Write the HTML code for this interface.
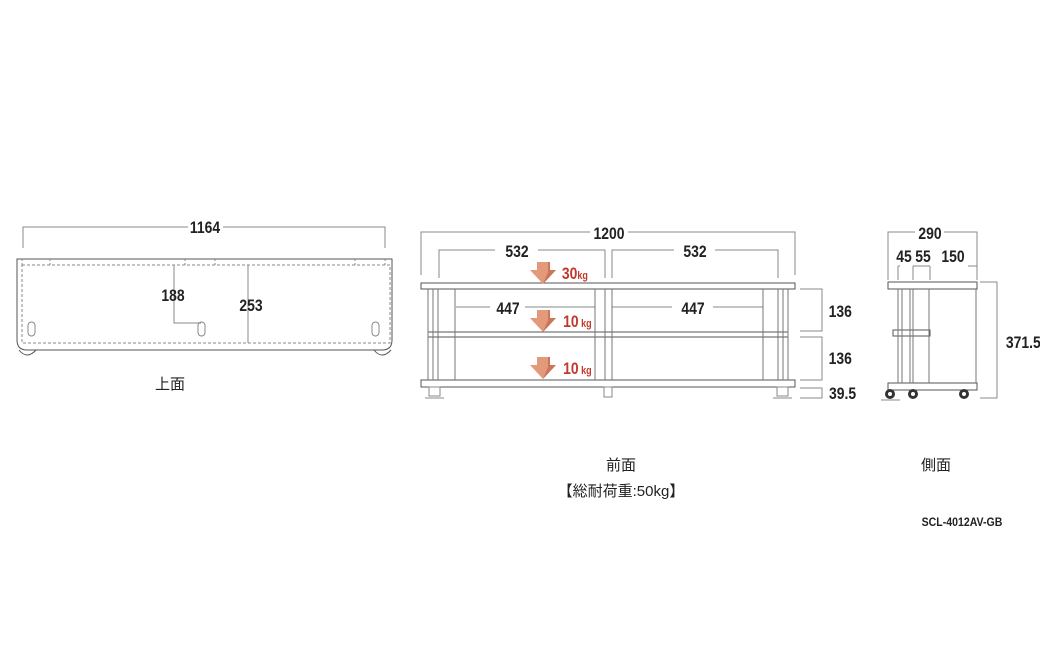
<!DOCTYPE html>
<html><head><meta charset="utf-8"><style>
html,body{margin:0;padding:0;background:#fff;}
svg{display:block}
text{font-family:"Liberation Sans","Noto Sans CJK JP",sans-serif;fill:#222;font-weight:bold}
.n{font-size:17px;transform-box:fill-box;transform-origin:center;transform:scaleX(.82)}
.r{fill:#c0392b}
.j{font-size:15px;font-weight:normal}
</style></head><body>
<svg width="1040" height="647" viewBox="0 0 1040 647" xmlns="http://www.w3.org/2000/svg">
<g fill="none" stroke="#888" stroke-width="1">
<!-- TOP VIEW -->
<path d="M23 248V227H188M223 227H385V248"/>
<path d="M17 259H392V340Q392 350 382 350H27Q17 350 17 340Z" stroke="#555"/>
<path d="M22 265H390V343H22Z" stroke-dasharray="3,2"/>
<path d="M22 265V259M50 265V259M185 265V259M215 265V259M355 265V259M385 265V259" stroke-dasharray="2,2"/>
<path d="M174 265V323H201"/>
<path d="M248 265V343"/>
<rect x="28" y="322" width="7" height="14" rx="3.5"/>
<rect x="198" y="322" width="7" height="14" rx="3.5"/>
<rect x="372" y="322" width="7" height="14" rx="3.5"/>
<path d="M19 350Q27 360 36 350M374 350Q382 360 391 350" stroke="#555"/>
<!-- FRONT VIEW -->
<path d="M421 275V232H590M628 232H795V275"/>
<path d="M439 278V250H495M538 250H605V278M612 278V250H674M715 250H778V278"/>
<path d="M456 307H490M525 307H595M612 307H672M713 307H763"/>
<rect x="421" y="283" width="374" height="6" stroke="#555"/>
<rect x="428" y="332" width="360" height="5" stroke="#555"/>
<rect x="421" y="380" width="374" height="7" stroke="#555"/>
<path d="M428 289V380M433 289V380M438 289V380M455 289V380M595 289V380M605 289V380M612 289V380M763 289V380M778 289V380M783 289V380M788 289V380" stroke="#777"/>
<rect x="429" y="387" width="11" height="9"/><path d="M425 398H444"/>
<rect x="777" y="387" width="11" height="9"/><path d="M773 398H792"/>
<rect x="604" y="387" width="8" height="10"/>
<path d="M800 289H822V331H800M800 337H822V380H800M800 388H822V398H800"/>
<!-- SIDE VIEW -->
<path d="M888 280V232H915M944 232H977V280"/>
<path d="M898 280V266M913 280V266M930 280V266M977 280V266"/>
<path d="M898 266H900M913 266H930M968 266H977"/>
<rect x="888" y="282" width="89" height="7" stroke="#555"/>
<rect x="893" y="330" width="37" height="6" stroke="#555"/>
<rect x="888" y="383" width="89" height="7" stroke="#555"/>
<path d="M898 289V383M902 289V383M910 289V383M913 289V383M929 289V383M976 289V383" stroke="#777"/>
<path d="M980 282H997V398H980"/>
<path d="M881 400H900"/>
</g>
<g fill="#333">
<circle cx="890" cy="394" r="5"/><circle cx="913" cy="394" r="5"/><circle cx="964" cy="394" r="5"/>
</g>
<g fill="#fff"><circle cx="890" cy="394" r="2"/><circle cx="913" cy="394" r="2"/><circle cx="964" cy="394" r="2"/></g>
<!-- arrows -->
<g fill="#e39a7a">
<path d="M537 262H550V270H556L543 284L530 270H537Z"/>
<path d="M537 310H550V318H556L543 332L530 318H537Z"/>
<path d="M537 357H550V365H556L543 379L530 365H537Z"/>
</g>
<g fill="#c9775a">
<path d="M550 262V270H556L543 284L548 272V262Z"/>
<path d="M550 310V318H556L543 332L548 320V310Z"/>
<path d="M550 357V365H556L543 379L548 367V357Z"/>
</g>
<text class="n" x="205" y="233" text-anchor="middle">1164</text>
<text class="n" x="173" y="301" text-anchor="middle">188</text>
<text class="n" x="251" y="311" text-anchor="middle">253</text>
<text class="j" x="170" y="389" text-anchor="middle">上面</text>
<text class="n" x="609" y="239" text-anchor="middle">1200</text>
<text class="n" x="517" y="257" text-anchor="middle">532</text>
<text class="n" x="695" y="257" text-anchor="middle">532</text>
<text class="n" x="508" y="314" text-anchor="middle">447</text>
<text class="n" x="693" y="314" text-anchor="middle">447</text>
<text class="n r" x="559" y="279">30<tspan style="font-size:11px">kg</tspan></text>
<text class="n r" x="560" y="327">10<tspan style="font-size:11px"> kg</tspan></text>
<text class="n r" x="560" y="374">10<tspan style="font-size:11px"> kg</tspan></text>
<text class="n" x="826" y="317">136</text>
<text class="n" x="826" y="364">136</text>
<text class="n" x="826" y="399">39.5</text>
<text class="n" x="930" y="239" text-anchor="middle">290</text>
<text class="n" x="904" y="262" text-anchor="middle">45</text>
<text class="n" x="923" y="262" text-anchor="middle">55</text>
<text class="n" x="953" y="262" text-anchor="middle">150</text>
<text class="n" x="1002" y="348">371.5</text>
<text class="j" x="621" y="470" text-anchor="middle">前面</text>
<text class="j" x="621" y="496" text-anchor="middle">【総耐荷重:50kg】</text>
<text class="j" x="936" y="470" text-anchor="middle">側面</text>
<text x="962" y="526" text-anchor="middle" style="font-size:12px;transform-box:fill-box;transform-origin:center;transform:scaleX(.88)">SCL-4012AV-GB</text>
</svg>
</body></html>
